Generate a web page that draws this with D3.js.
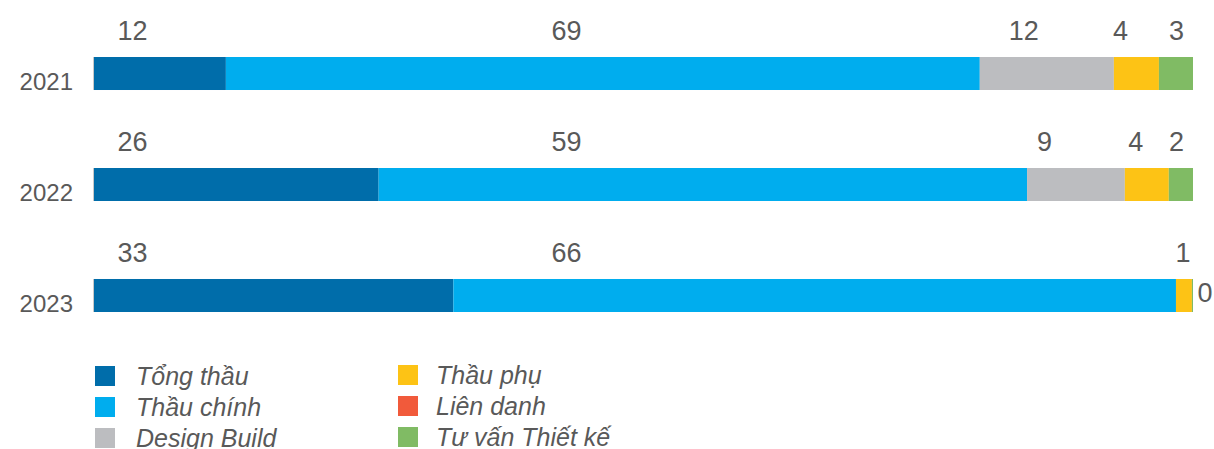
<!DOCTYPE html>
<html>
<head>
<meta charset="utf-8">
<script src="https://cdn.jsdelivr.net/npm/d3@7"></script>
<style>
  body { margin: 0; background: #fff; }
  svg { display: block; font-family: "Liberation Sans", Arial, sans-serif; }
</style>
</head>
<body>
<svg id="chart" width="1214" height="449"></svg>
<script>
// data
let years = ["2021", "2022", "2023"]
let seriesNames = ["Tổng thầu", "Thầu chính", "Design Build", "Thầu phụ", "Liên danh", "Tư vấn Thiết kế"]
let seriesColors = ["#006DAA", "#00ADEE", "#BCBDC0", "#FDC315", "#F15A3B", "#80BB64"]

let tongThau = [12.0, 25.9, 32.7]
let thauChinh = [68.6, 59.0, 65.75]
let designBuild = [12.2, 8.9, 0]
let thauPhu = [4.1, 4.0, 1.45]
let lienDanh = [0, 0, 0]
let tuVan = [3.1, 2.2, 0.1]

// where the value labels sit (in % of the bar), null = no label
let labelAt = [
    [3.5, 43, 84.6, 93.4, null, 98.5],
    [3.5, 43, 86.5, 94.8, null, 98.5],
    [3.5, 43, null, 99.1, null, 101.1]
]
// labels drawn beside the bar instead of above it
let labelBeside = [
    [false, false, false, false, false, false],
    [false, false, false, false, false, false],
    [false, false, false, false, false, true]
]

let allSeries = [tongThau, thauChinh, designBuild, thauPhu, lienDanh, tuVan]
let textColor = "#595959"

let svg = d3.select("#chart")

let x = d3.scaleLinear().domain([0, 100]).range([94, 1193])
let y = d3.scaleBand()
    .domain(years)
    .range([18, 351])
    .paddingInner(0.7027)
    .paddingOuter(0.3514)

let rows = years.map((year, i) => {
    let row = { year: year }
    seriesNames.forEach((name, j) => { row[name] = allSeries[j][i] })
    return row
})

let stacked = d3.stack().keys(seriesNames)(rows)

// bars
svg.append("g")
    .selectAll("g")
    .data(stacked)
    .enter()
    .append("g")
    .attr("fill", (d, j) => seriesColors[j])
    .selectAll("rect")
    .data(d => d)
    .enter()
    .append("rect")
    .attr("x", d => x(d[0]))
    .attr("y", d => y(d.data.year))
    .attr("width", d => Math.max(0, x(d[1]) - x(d[0])))
    .attr("height", y.bandwidth())

// thin line at the start of each bar
svg.append("g")
    .selectAll("line")
    .data(years)
    .enter()
    .append("line")
    .attr("x1", x(0) - 0.5)
    .attr("x2", x(0) - 0.5)
    .attr("y1", d => y(d))
    .attr("y2", d => y(d) + y.bandwidth())
    .attr("stroke", "#c8c8c8")
    .attr("stroke-width", 1)

// year labels
svg.append("g")
    .selectAll("text")
    .data(years)
    .enter()
    .append("text")
    .attr("x", x(0) - 21)
    .attr("y", d => y(d) + y.bandwidth())
    .attr("text-anchor", "end")
    .attr("font-size", 24)
    .attr("fill", textColor)
    .text(d => d)

// value labels
let labels = []
years.forEach((year, i) => {
    seriesNames.forEach((name, j) => {
        let v = allSeries[j][i]
        if (v > 0 && labelAt[i][j] !== null) {
            labels.push({ year: year, value: v, at: labelAt[i][j], beside: labelBeside[i][j] })
        }
    })
})

svg.append("g")
    .selectAll("text")
    .data(labels)
    .enter()
    .append("text")
    .attr("x", d => x(d.at))
    .attr("y", d => d.beside ? y(d.year) + y.bandwidth() / 2 + 7 : y(d.year) - 17)
    .attr("text-anchor", "middle")
    .attr("font-size", 27)
    .attr("fill", textColor)
    .text(d => Math.round(d.value))

// legend
let legend = svg.append("g")
    .selectAll("g")
    .data(seriesNames)
    .enter()
    .append("g")
    .attr("transform", (d, j) => {
        let col = Math.floor(j / 3)
        let r = j % 3
        return "translate(" + (95 + col * 303) + "," + (366 + r * 31 - col * 1) + ")"
    })

legend.append("rect")
    .attr("width", 20)
    .attr("height", 20)
    .attr("fill", (d, j) => seriesColors[j])

legend.append("text")
    .attr("x", (d, j) => j < 3 ? 41 : 38)
    .attr("y", 19)
    .attr("font-size", 25)
    .attr("font-style", "italic")
    .attr("fill", textColor)
    .text(d => d)
</script>
</body>
</html>
